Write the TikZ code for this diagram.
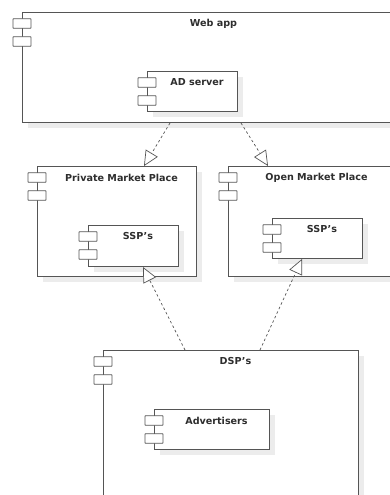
\documentclass[tikz,border=0pt]{standalone}
\usepackage{fontspec}
\setmainfont{DejaVu Sans}
\usetikzlibrary{arrows.meta,calc}

\definecolor{edge}{HTML}{555555}
\definecolor{shadowgray}{HTML}{ECECEC}
\definecolor{ink}{HTML}{2E2E2E}

\tikzset{
  box/.style={draw=edge, line width=1pt, fill=white, rectangle, inner sep=0pt, anchor=north west},
  tab/.style={draw=edge, line width=0.9pt, fill=white, rectangle, inner sep=0pt,
              minimum width=18pt, minimum height=9.5pt, rounded corners=0.6pt},
  title/.style={font=\bfseries\fontsize{9.6}{11}\selectfont, text=ink, inner sep=0pt},
  dep/.style={draw=edge, line width=0.7pt, dash pattern=on 2.5pt off 2.5pt,
              -{Triangle[open, length=15pt, width=14pt, fill=white]}},
}

% UML component: name, left, top, right, bottom, title
\newcommand\umlcomp[6]{%
  \fill[shadowgray] (#2+6,#3+6) rectangle (#4+6,#5+6);
  \node[box, minimum width=#4-#2, minimum height=#5-#3] (#1) at (#2,#3) {};
  \node[title] (#1-t) at ($(#1.north)+(4.5,11.5)$) {#6};
  \node[tab] (#1-a) at ($(#1.north west)+(0,11.5)$) {};
  \node[tab] (#1-b) at ($(#1.north west)+(0,29.5)$) {};
}

\begin{document}
\begin{tikzpicture}[x=1pt, y=-1pt]
  \useasboundingbox (0,0) rectangle (390,495);
  \clip (0,0) rectangle (390,495);
  \fill[white] (0,0) rectangle (390,495);

  \umlcomp{webapp}{22}{12}{395}{122}{Web app}
  \umlcomp{adserver}{147}{71}{237}{111}{AD server}

  \umlcomp{pmp}{37}{166}{196}{276}{Private Market Place}
  \umlcomp{sspa}{88}{225}{178}{266}{SSP's}

  \umlcomp{omp}{228}{166}{395}{276}{Open Market Place}
  \umlcomp{sspb}{272}{218}{362}{258}{SSP's}

  \umlcomp{dsp}{103}{350}{358}{505}{DSP's}
  \umlcomp{adv}{154}{409}{269}{449}{Advertisers}

  % dependencies
  \draw[dep] ($(webapp.south west)+(148,0)$) -- ($(pmp.north west)+(107,0)$);
  \draw[dep] ($(webapp.south west)+(219,0)$) -- ($(omp.north west)+(40,0)$);
  \draw[dep] ($(dsp.north west)+(82,0)$) -- ($(sspa.south west)+(55,0)$);
  \draw[dep] ($(dsp.north west)+(157,0)$) -- ($(sspb.south west)+(30,0)$);
\end{tikzpicture}
\end{document}
